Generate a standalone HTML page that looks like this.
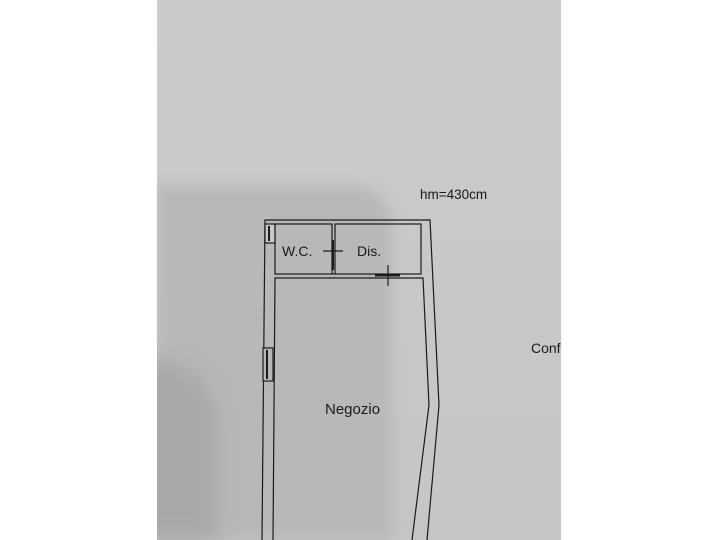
<!DOCTYPE html>
<html><head><style>
html,body{margin:0;padding:0;width:720px;height:540px;overflow:hidden;background:#fff;position:relative;}
.paper{position:absolute;left:157px;top:0;width:404px;height:540px;background:linear-gradient(#cdcbca,#c7c5c4);overflow:hidden;}
.sh{position:absolute;left:0;top:185px;width:235px;height:355px;background:#bab8b7;border-top-right-radius:40px;filter:blur(6px);}
.sh2{position:absolute;left:-40px;top:360px;width:100px;height:180px;background:#aaa8a7;border-top-right-radius:60px;filter:blur(10px);}
.t{position:absolute;font-family:"Liberation Sans",sans-serif;color:#1a1a1a;font-size:13.5px;line-height:1;}
</style></head><body>
<div class="paper"><div class="sh"></div><div class="sh2"></div></div>
<svg width="720" height="540" style="position:absolute;left:0;top:0" fill="none" stroke="#1a1a1a" stroke-width="1.2">
<polyline points="262,540 265,220 430,220 439,405 427,540"/>
<polyline points="273,540 275,278 423,278 429,405 412,540"/>
<rect x="275" y="224" width="57" height="50"/>
<rect x="335" y="224" width="86" height="50"/>
<line x1="332" y1="274" x2="335" y2="274"/>
<line x1="323" y1="251" x2="343" y2="251"/>
<line x1="333" y1="240" x2="333" y2="270" stroke-width="2"/>
<line x1="388" y1="265" x2="388" y2="286"/>
<line x1="375" y1="275.5" x2="400" y2="275.5" stroke-width="2"/>
<rect x="265" y="224" width="10" height="19" fill="#c9c7c6"/>
<line x1="269" y1="226" x2="269" y2="241" stroke-width="2"/>
<rect x="263" y="348" width="10" height="33" fill="#b9b7b6"/>
<line x1="267" y1="350" x2="267" y2="379" stroke-width="2"/>
</svg>
<div class="t" style="left:420px;top:188px;">hm=430cm</div>
<div class="t" style="left:282px;top:244px;font-size:14px;">W.C.</div>
<div class="t" style="left:357px;top:244px;font-size:14px;">Dis.</div>
<div class="t" style="left:325px;top:402px;font-size:15px;">Negozio</div>
<div class="t" style="left:531px;top:341px;font-size:14px;">Conf</div>
</body></html>
